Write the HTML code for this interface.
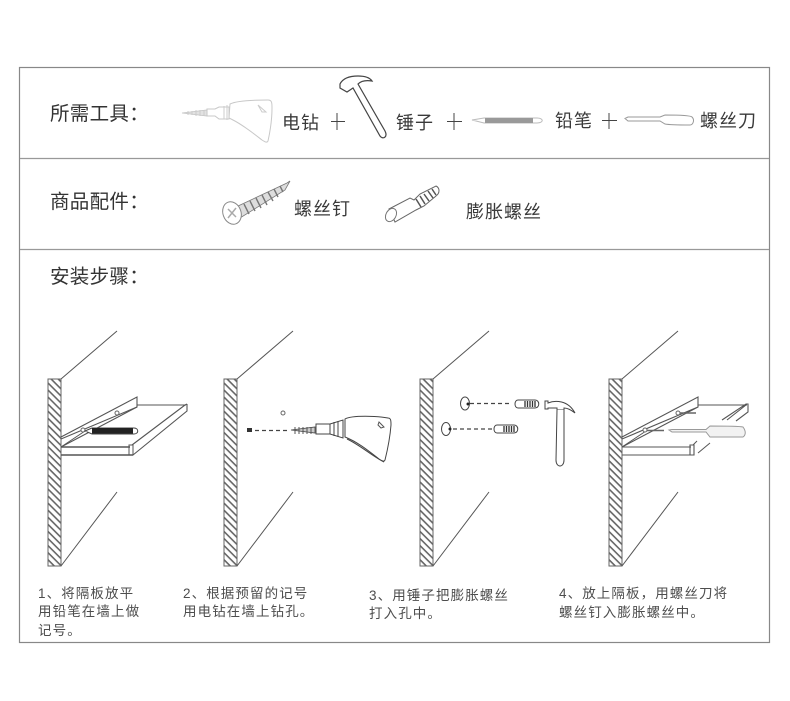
<!DOCTYPE html>
<html><head><meta charset="utf-8"><style>
html,body{margin:0;padding:0;background:#fff}
svg{display:block}
text{font-family:"Liberation Sans","Noto Sans CJK SC",sans-serif;fill:#3a3a3a}
.t{font-size:19.5px;letter-spacing:.3px;fill:#333}
.l{font-size:18px;letter-spacing:1px}
.c{font-size:13.5px;letter-spacing:1.1px;fill:#4d4d4d}
.k{fill:none;stroke:#555;stroke-width:1}
.d{fill:none;stroke:#444;stroke-width:1.2;stroke-dasharray:4 3}
.g{fill:#fff;stroke:#c8c8c8;stroke-width:1}
</style></head><body>
<svg width="790" height="701" viewBox="0 0 790 701" xmlns="http://www.w3.org/2000/svg">
<defs>
<pattern id="h" width="5" height="5" patternUnits="userSpaceOnUse" patternTransform="rotate(45)">
<rect width="5" height="5" fill="#fff"/><rect width="5" height="1.6" fill="#666"/>
</pattern>
<g id="wall">
<rect x="0" y="379" width="13" height="187" fill="url(#h)" stroke="#666" stroke-width="1"/>
<path d="M13 379L69 331M13 566L69 492" fill="none" stroke="#555" stroke-width="1"/>
</g>
<g id="shelfback" fill="none" stroke="#555">
<path d="M61 437L137 397V407L61 439" stroke-width="1.1"/>
<path d="M61 447L137 407" stroke-width="1.1"/>
<path d="M61 447H130M61 455H133" stroke-width="1.4"/>
<path d="M129 445H133V455H129Z" stroke-width="1"/>
<path d="M137 405H186"/>
</g>
<g id="anchor">
<path d="M3 0H20C25 0 25 8 20 8H3C-1 8 -1 0 3 0Z" fill="#fff" stroke="#444"/>
<path d="M10 1V7M12.500 1V7M15 1V7M17.500 1V7M20 1V7" stroke="#333" stroke-width="1.3"/>
</g>
</defs>
<rect width="790" height="701" fill="#fff"/>
<!-- frame -->
<rect x="19.500" y="67.500" width="750" height="575" fill="none" stroke="#888" stroke-width="1.2"/>
<path d="M20 158.500H769M20 249.500H769" stroke="#999" stroke-width="1.2"/>
<!-- headings -->
<text class="t" x="50" y="120">所需工具：</text>
<text class="t" x="50" y="208">商品配件：</text>
<text class="t" x="50" y="283">安装步骤：</text>
<!-- row 1 -->
<g>
<path class="g" d="M230 104C238 100 258 100 268 100C272 100 272 103 272 108C272 120 270 132 268 141C267 143 265 142 262 140C253 133 243 125 233 120L229 118Z"/>
<path class="g" d="M207 109H215L219 107H229V119H219L215 116H207Z"/>
<path d="M258 105L266 112L262 112Z" fill="none" stroke="#ccc"/>
<path d="M182 113L207 110V116Z" fill="#e2e2e2" stroke="#c4c4c4" stroke-width=".8"/>
<path d="M188 111V115M192 111V115M196 110V116M200 110V116M204 110V116M224 106V119M227 105V120" stroke="#ccc" stroke-width="1"/>
</g>
<text class="l" x="282" y="129">电钻</text>
<path d="M337 113V130M331 121.500H345" stroke="#444" stroke-width="1"/>
<path d="M340 84C343 78 350 76 358 76C365 76 370 78 372 81C366 80 361 81 358 84L385 131C388 137 383 140 380 136L353 88L347 92L340 88Z" fill="#fff" stroke="#444" stroke-width="1.2"/>
<text class="l" x="396" y="129">锤子</text>
<path d="M454 113V130M447 121.500H462" stroke="#444" stroke-width="1"/>
<path d="M472 120L484 118H537C544 118 544 123 537 123H484Z" fill="#fff" stroke="#bbb"/>
<rect x="485" y="118" width="48" height="5" fill="#999"/>
<text class="l" x="555" y="127">铅笔</text>
<path d="M609 113V129M602 120.500H617" stroke="#444" stroke-width="1"/>
<path d="M625 118.500L628 117H660L665 115C675 115 690 115 692 117C695 120 693 125 690 125C680 125 670 125 665 124L660 121H628Z" fill="#fff" stroke="#999" stroke-width="1"/>
<text class="l" x="700" y="127">螺丝刀</text>
<!-- row 2 -->
<g>
<path d="M238 206L287 183L290 181L285 190L240 218Z" fill="#ddd" stroke="#777" stroke-width=".8"/>
<path d="M244 204L249 214M250 201L255 211M256 198L261 208M262 195L267 205M268 192L273 201M274 189L278 197M280 186L283 192" stroke="#777" stroke-width="1.400"/>
<ellipse cx="232" cy="213" rx="9" ry="11.500" transform="rotate(-20 232 213)" fill="#fff" stroke="#888"/>
<path d="M228 209L236 217M236 208L228 218" stroke="#aaa" stroke-width="1.500"/>
</g>
<text class="l" x="294" y="215">螺丝钉</text>
<g>
<path d="M389 209L410 198L414 200L420 194L436 186C440 188 440 193 436 196L424 206L416 210L395 222Z" fill="#fff" stroke="#666"/>
<path d="M416 199L421 207M420 196L425 204M424 194L429 201M428 191L433 198M432 189L436 195" stroke="#555" stroke-width="1.500"/>
<ellipse cx="391" cy="215" rx="5" ry="7" transform="rotate(30 391 215)" fill="#fff" stroke="#777"/>
</g>
<text class="l" x="466" y="218">膨胀螺丝</text>
<!-- step 1 -->
<use href="#wall" x="48"/>
<use href="#shelfback"/>
<path d="M133 455L187 411V404" fill="none" stroke="#555" stroke-width="1.1"/>
<path d="M132 445L185 405L187 404" fill="none" stroke="#555" stroke-width="1.1"/>
<path d="M61 447L85 431" stroke="#555" fill="none"/>
<circle cx="117" cy="413" r="2" fill="#fff" stroke="#666"/>
<circle cx="83" cy="430" r="2" fill="#fff" stroke="#666"/>
<path d="M85 431L92 428H134C139 428 139 434 134 434H92Z" fill="#fff" stroke="#444"/>
<rect x="92" y="428" width="41" height="5.500" fill="#222"/>
<!-- step 2 -->
<use href="#wall" x="224"/>
<circle cx="283" cy="413" r="2" fill="#fff" stroke="#666"/>
<rect x="247" y="428" width="5" height="4" fill="#333"/>
<path class="d" d="M255 430.500H290"/>
<path d="M291 430L315 427V433Z" fill="#ccc" stroke="#444" stroke-width=".8"/>
<path d="M295 427V434M299 427V434M303 427V434M307 427V434M311 427V434" stroke="#555"/>
<path d="M316 424H330L343 420V438L330 434H316Z" fill="#fff" stroke="#444"/>
<path d="M330 424V434M334 422V436M338 421V437" stroke="#444"/>
<path d="M345 419C352 415 378 416 388 418C391 418 391 421 391 425C390 438 387 452 385 460C384 462 382 461 379 459C370 452 358 442 345 437Z" fill="#fff" stroke="#444"/>
<path d="M347 439C360 445 372 456 384 462" fill="none" stroke="#444"/>
<path d="M379 422L384 427L381 428L378 425Z" fill="#fff" stroke="#555"/>
<!-- step 3 -->
<use href="#wall" x="420"/>
<ellipse cx="465" cy="403.500" rx="4.500" ry="6.500" fill="#fff" stroke="#444"/>
<ellipse cx="446" cy="429" rx="4.500" ry="6.500" fill="#fff" stroke="#444"/>
<circle cx="468" cy="404" r="1.500" fill="#222"/>
<circle cx="450" cy="429" r="1.500" fill="#222"/>
<path class="d" d="M470 403.500H512M453 429H492"/>
<use href="#anchor" x="515" y="400"/>
<use href="#anchor" x="494" y="425"/>
<path d="M545 401H548V403C555 400 568 400 575 413C570 409 566 408 564 408V410H557V408H548V409H545Z" fill="#fff" stroke="#444"/>
<path d="M557 410L556 460C556 468 564 468 564 460L564 410" fill="#fff" stroke="#444"/>
<!-- step 4 -->
<use href="#wall" x="609"/>
<path d="M622 437L698 397V407L622 439M622 447L698 407M622 447H691M622 455H694M690 445H694V455H690ZM698 405H747" fill="none" stroke="#555" stroke-width="1.1"/>
<path d="M722 420L746 404L748 404V412L736 421M727 420L746 405" fill="none" stroke="#555" stroke-width="1.1"/>
<path d="M698 453L710 443" stroke="#555" fill="none"/>
<path d="M693 445L697 441" stroke="#555" fill="none"/>
<path d="M622 447L646 431" stroke="#555" fill="none"/>
<circle cx="678" cy="413" r="2" fill="#fff" stroke="#666"/>
<circle cx="645" cy="430" r="2" fill="#fff" stroke="#666"/>
<path d="M680 413H696M647 430.500H664" stroke="#666" stroke-width="1.500"/>
<path d="M669 430L672 429.500H706L710 426C720 426 738 426 743 427C746 431 746 435 743 437C735 437 720 437 710 437L706 432H672Z" fill="#f2f2f2" stroke="#999"/>
<!-- captions -->
<text class="c" x="38" y="598">1、将隔板放平</text>
<text class="c" x="38" y="616">用铅笔在墙上做</text>
<text class="c" x="38" y="635">记号。</text>
<text class="c" x="183" y="598">2、根据预留的记号</text>
<text class="c" x="183" y="616">用电钻在墙上钻孔。</text>
<text class="c" x="369" y="600">3、用锤子把膨胀螺丝</text>
<text class="c" x="369" y="618">打入孔中。</text>
<text class="c" x="559" y="598">4、放上隔板，用螺丝刀将</text>
<text class="c" x="559" y="617">螺丝钉入膨胀螺丝中。</text>
</svg>
</body></html>
